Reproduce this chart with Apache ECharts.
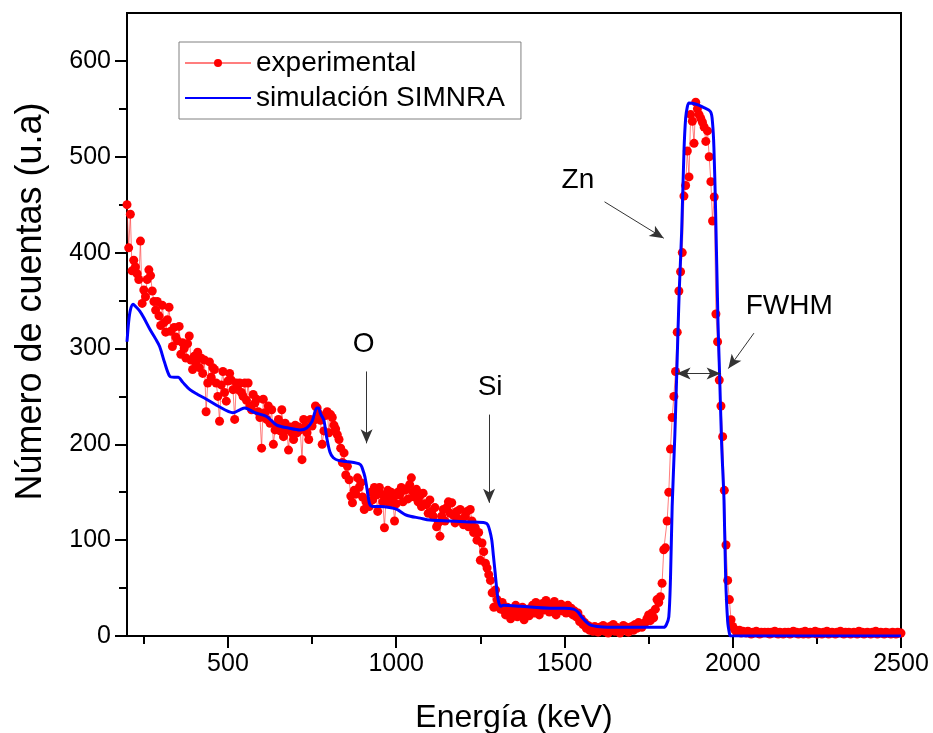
<!DOCTYPE html>
<html>
<head>
<meta charset="utf-8">
<script src="https://cdn.jsdelivr.net/npm/echarts@6/dist/echarts.min.js"></script>
<style>
html,body{margin:0;padding:0;background:#fff;}
#chart{width:933px;height:733px;}
</style>
</head>
<body>
<div id="chart"></div>
<script>
// ---- Data ----
// Experimental spectrum: energies from 200 to 2500 keV, one channel every 5 keV
const expStart = 200;
const expStep = 5;
const expCounts = [
  // 200-295
  450,405,440,381,392,385,378,372,412,347,361,354,372,382,376,360,349,340,349,334,
  // 300-395
  324,345,327,317,330,343,318,302,322,312,308,323,294,306,300,290,305,313,288,278,
  // 400-495
  292,285,296,280,290,274,288,234,264,286,270,280,278,264,250,224,262,276,254,245,
  // 500-595
  266,274,267,257,226,264,257,264,254,250,264,246,264,240,236,252,243,247,234,228,
  // 600-695
  196,247,233,226,240,222,236,200,215,220,226,214,236,208,222,215,194,218,212,205,
  // 700-795
  220,212,218,215,184,226,219,212,205,226,219,225,240,238,232,225,200,214,230,234,
  // 800-895
  212,231,228,220,216,210,205,196,181,191,168,177,163,146,139,152,148,165,155,160,
  // 900-995
  145,132,140,138,135,150,142,155,147,130,155,148,140,113,145,152,138,150,143,120,
  // 1000-1095
  138,150,147,155,140,152,153,143,158,165,150,145,153,140,146,135,149,138,137,128,
  // 1100-1195
  142,130,125,134,114,118,104,125,132,120,134,140,128,139,126,118,130,122,132,120,
  // 1200-1295
  116,125,130,114,132,120,108,113,100,108,79,97,88,76,71,64,58,45,30,48,
  // 1300-1395
  38,32,28,35,27,22,30,25,18,28,24,32,20,26,22,30,17,25,28,21,
  // 1400-1495
  26,32,24,35,28,22,30,34,27,37,30,25,33,28,36,22,30,27,33,26,
  // 1500-1595
  30,24,32,27,29,22,26,20,24,15,18,12,14,8,11,6,9,5,10,7,
  // 1600-1695
  4,9,6,11,5,8,3,10,7,12,5,9,6,3,8,11,6,9,4,8,
  // 1700-1795
  10,6,12,8,14,11,9,13,14,18,22,16,24,19,28,38,35,41,55,90,
  // 1800-1895
  92,120,150,195,228,250,276,317,360,380,400,459,470,506,479,544,537,514,557,550,
  // 1900-1995
  544,540,536,531,516,527,500,474,433,458,336,307,267,240,208,152,95,58,38,17,
  // 2000-2095
  10,7,5,4,6,3,5,4,3,5,4,2,4,3,5,3,2,4,3,4,
  // 2100-2195
  3,4,2,4,3,5,3,2,4,3,2,4,3,4,2,3,5,3,4,2,
  // 2200-2295
  3,4,2,5,3,2,4,3,3,5,2,4,3,2,4,3,5,2,3,4,
  // 2300-2395
  3,2,4,3,5,3,2,4,3,4,2,3,4,3,2,5,3,4,2,3,
  // 2400-2500
  4,3,2,4,3,5,2,3,4,3,2,4,3,3,2,4,3,2,4,3,3
];

// SIMNRA simulation curve (energy keV, counts)
const simEnergy = [200,205,210,218,225,238,250,268,285,297,312,327,340,352,365,387,410,436,470,515,535,550,580,615,645,680,714,734,750,764,769,775,785,793,803,813,830,853,893,902,907,912,917,922,935,952,980,1002,1031,1071,1100,1160,1220,1265,1272,1278,1284,1289,1294,1299,1304,1310,1319,1369,1458,1500,1527,1540,1553,1567,1580,1597,1650,1700,1760,1795,1803,1810,1815,1820,1828,1835,1841,1848,1855,1860,1865,1870,1889,1910,1934,1940,1944,1949,1956,1961,1967,1974,1979,1985,1990,1993,2000,2100,2300,2500];
const simCounts = [307,328,340,346,344,339,332,320,310,302,285,271,270,270,265,257,252,247,240,233,236,238,233,229,220,217,215,217,224,238,238,232,225,208,192,186,183,182,179,172,166,156,145,137,135,135,134,132,126,123,121,120,119,118,116,110,100,83,66,48,36,31,32,31,29,29,28,25,19,14,11,10,9,9,9,9,12,20,60,135,210,290,360,420,505,540,552,556,555,552,547,535,510,445,330,272,200,142,60,15,3,0,0,0,0,0];

// Axis ticks
const xMajorTicks = [500,1000,1500,2000,2500];
const xMinorTicks = [250,750,1250,1750,2250];
const yMajorTicks = [0,100,200,300,400,500,600];
const yMinorTicks = [50,150,250,350,450,550];

// Annotations (data coordinates)
const annoTexts = [
  {name:'O', x:903, y:304},
  {name:'Si', x:1279, y:260},
  {name:'Zn', x:1540, y:475},
  {name:'FWHM', x:2168, y:344}
];
const annoArrows = [
  {from:[912,276], to:[912,201]},
  {from:[1276,231], to:[1276,139]},
  {from:[1619,453], to:[1795,415]},
  {from:[2063,316], to:[1987,279]}
];
const fwhmArrow = {from:[1833,274], to:[1964,274]};

// ---- Build ----
const expData = expCounts.map((v,i)=>[expStart + i*expStep, v]);
const simData = simEnergy.map((e,i)=>[e, simCounts[i]]);

const FONT = 'Liberation Sans, Arial, sans-serif';

const markLineData = annoArrows.map(a => [
  {coord:a.from, symbol:'none'},
  {coord:a.to, symbol:'arrow'}
]);
markLineData.push([
  {coord:fwhmArrow.from, symbol:'arrow'},
  {coord:fwhmArrow.to, symbol:'arrow'}
]);

const plain = v => String(v);

const chart = echarts.init(document.getElementById('chart'), null, {renderer:'canvas'});
chart.setOption({
  animation:false,
  backgroundColor:'#fff',
  textStyle:{fontFamily:FONT},
  grid:{left:127, right:32, top:13, bottom:97, containLabel:false, outerBoundsMode:'none',
        show:true, borderColor:'#000', borderWidth:2, backgroundColor:'transparent'},
  legend:{
    left:179, top:42, orient:'vertical',
    borderColor:'#808080', borderWidth:1,
    padding:[6,16,6,5],
    itemGap:5, itemWidth:66, itemHeight:10,
    textStyle:{fontSize:28, fontFamily:FONT, color:'#000', lineHeight:30},
    data:[
      {name:'experimental'},
      {name:'simulación SIMNRA', itemStyle:{opacity:0}}
    ]
  },
  xAxis:[{
    type:'value', min:200, max:2500,
    name:'Energía (keV)', nameLocation:'middle', nameGap:66,
    nameTextStyle:{fontSize:32, color:'#000', fontFamily:FONT},
    axisLine:{show:true, lineStyle:{color:'#000', width:2}},
    axisTick:{show:true, length:12, inside:false, customValues:xMajorTicks, lineStyle:{color:'#000', width:2}},
    axisLabel:{show:true, customValues:xMajorTicks, margin:16, fontSize:25, color:'#000', fontFamily:FONT, formatter:plain},
    splitLine:{show:false}
  },{
    type:'value', min:200, max:2500, position:'bottom',
    axisLine:{show:false},
    axisTick:{show:true, length:8, customValues:xMinorTicks, lineStyle:{color:'#000', width:2}},
    axisLabel:{show:false},
    splitLine:{show:false}
  }],
  yAxis:[{
    type:'value', min:0, max:650,
    name:'Número de cuentas (u.a)', nameLocation:'middle', nameGap:78,
    nameTextStyle:{fontSize:36, color:'#000', fontFamily:FONT, padding:[0,0,0,46]},
    axisLine:{show:true, lineStyle:{color:'#000', width:2}},
    axisTick:{show:true, length:12, customValues:yMajorTicks, lineStyle:{color:'#000', width:2}},
    axisLabel:{show:true, customValues:yMajorTicks, margin:16, fontSize:25, color:'#000', fontFamily:FONT, formatter:plain},
    splitLine:{show:false}
  },{
    type:'value', min:0, max:650, position:'left',
    axisLine:{show:false},
    axisTick:{show:true, length:8, customValues:yMinorTicks, lineStyle:{color:'#000', width:2}},
    axisLabel:{show:false},
    splitLine:{show:false}
  }],
  series:[{
    name:'experimental',
    type:'line',
    xAxisIndex:0, yAxisIndex:0,
    data:expData,
    showSymbol:true, showAllSymbol:true,
    symbol:'circle', symbolSize:9,
    itemStyle:{color:'#ff0000'},
    lineStyle:{color:'rgba(255,40,40,0.6)', width:1},
    z:2,
    silent:true
  },{
    name:'simulación SIMNRA',
    type:'line',
    xAxisIndex:0, yAxisIndex:0,
    data:simData,
    showSymbol:false, symbol:'none',
    smooth:0.3,
    itemStyle:{color:'#0000ff'},
    lineStyle:{color:'#0000ff', width:3},
    z:3,
    silent:true,
    markLine:{
      silent:true, animation:false,
      symbolSize:[9,14],
      label:{show:false},
      lineStyle:{color:'#333', width:1, type:'solid'},
      itemStyle:{color:'#000'},
      emphasis:{disabled:true},
      data:markLineData
    },
    markPoint:{
      silent:true, animation:false,
      symbol:'circle', symbolSize:1,
      itemStyle:{color:'rgba(0,0,0,0)'},
      label:{show:true, position:'inside', color:'#000', fontSize:28, fontFamily:FONT, formatter:p=>p.name},
      data:annoTexts.map(t=>({name:t.name, coord:[t.x,t.y]}))
    }
  }]
});
</script>
</body>
</html>
